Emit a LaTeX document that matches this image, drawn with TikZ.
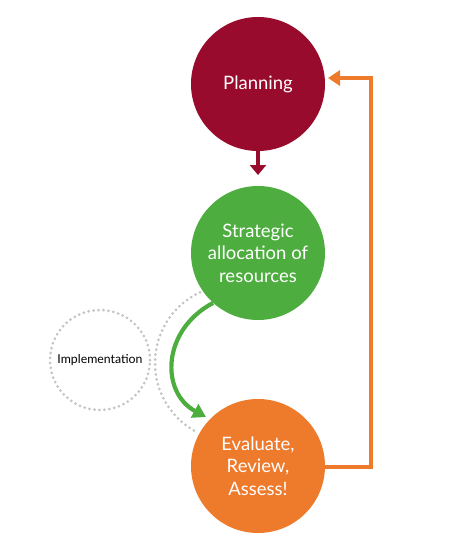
\documentclass[tikz,border=0pt]{standalone}
\usepackage{fontspec}
\setmainfont{Lato}
\usetikzlibrary{arrows.meta}
\definecolor{planred}{HTML}{990B2C}
\definecolor{stratgreen}{HTML}{4DAE3F}
\definecolor{evalorange}{HTML}{EE7A2C}
\definecolor{dotgrey}{HTML}{C4C4C4}
\tikzset{
  bigcircle/.style={circle, minimum size=134pt, inner sep=0pt, text=white,
    align=center, font=\fontsize{18.5}{22.5}\selectfont},
  dotline/.style={dotgrey, line width=3pt, line cap=round, dash pattern=on 0pt off 5pt},
  flowarrow/.style={line width=4.2pt},
}
\begin{document}
\begin{tikzpicture}[x=1pt, y=-1pt]
\useasboundingbox[fill=white] (0,0) rectangle (460,554);
% dotted shapes
\node[circle, minimum size=100pt, inner sep=0pt, draw=dotgrey, line width=3pt, dash pattern=on 0pt off 5pt, line cap=round,
  font=\fontsize{12.3}{14}\selectfont, text=black] (impl) at (100,360) {Implementation};
\draw[dotline] (233,363) ++(245:78) arc[start angle=245, end angle=117, radius=78];
% circles
\node[bigcircle, fill=planred] (plan) at (258,84) {Planning};
\node[bigcircle, fill=stratgreen] (strat) at (258,253) {Strategic\\allocation of\\resources};
\node[bigcircle, fill=evalorange] (eval) at (258,466) {Evaluate,\\Review,\\Assess!};
% connectors
\coordinate (planarrow) at (258,175);
\draw[flowarrow, planred, -{Triangle[length=10pt,width=16pt]}] (plan.south) -- (planarrow);
\coordinate (greenend) at (206,417);
\draw[flowarrow, stratgreen, -{Triangle[length=13pt,width=15pt]}] (strat.228) .. controls (162,330) and (160,392) .. (greenend);
\coordinate (corner1) at (371,467);
\coordinate (corner2) at (371,78);
\coordinate (orangeend) at (328,78);
\draw[flowarrow, evalorange, -{Triangle[length=12pt,width=15pt]}] (eval.east |- corner1) -- (corner1) -- (corner2) -- (orangeend);
\end{tikzpicture}
\end{document}
